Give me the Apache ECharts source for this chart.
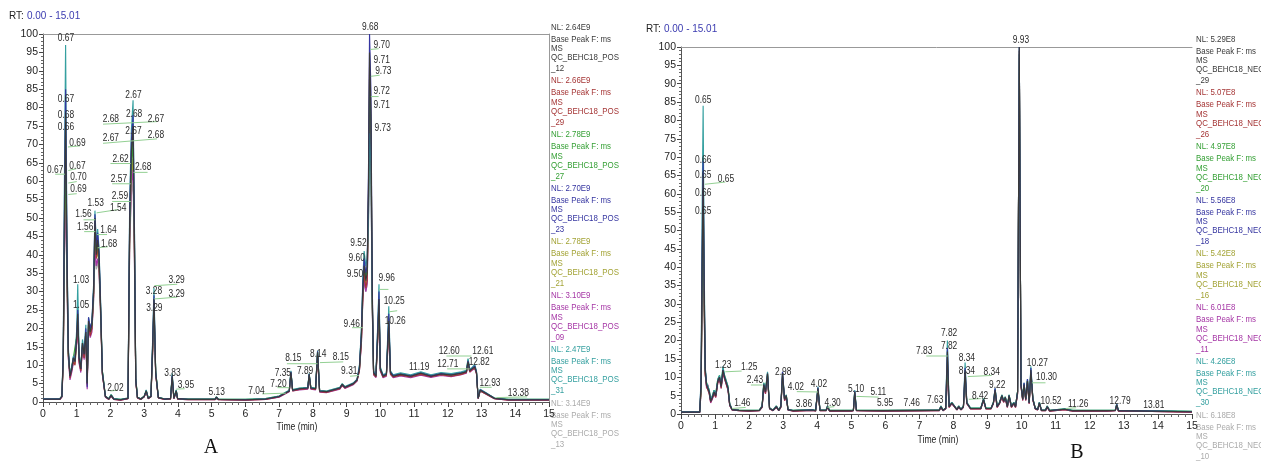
<!DOCTYPE html>
<html><head><meta charset="utf-8">
<script src="https://cdn.jsdelivr.net/npm/echarts@6/dist/echarts.min.js"></script>
<style>html,body{margin:0;padding:0;background:#fff}#c{width:1261px;height:461px}</style>
</head><body><div id="c"></div>
<script>
// ---------- Panel A (positive mode) ----------
const tA = [0,0.5,0.56,0.6,0.63,0.67,0.71,0.75,0.8,0.85,
 0.9,0.95,1.0,1.03,1.07,1.12,1.17,1.22,1.27,1.31,
 1.35,1.4,1.45,1.5,1.54,1.58,1.62,1.66,1.7,1.76,
 1.85,1.95,2.02,2.1,2.3,2.52,2.57,2.62,2.67,2.71,
 2.75,2.8,2.9,3.0,3.06,3.12,3.2,3.25,3.29,3.34,
 3.42,3.6,3.78,3.83,3.88,3.92,3.95,3.99,4.3,4.8,
 4.85,4.9,5.1,5.14,5.2,6.0,6.6,7.0,7.2,7.3,
 7.35,7.4,7.6,7.85,7.89,7.94,8.08,8.14,8.2,8.4,
 8.8,8.87,8.95,9.2,9.31,9.38,9.44,9.48,9.52,9.57,
 9.61,9.65,9.68,9.72,9.76,9.8,9.87,9.93,9.96,10.0,
 10.08,10.18,10.25,10.3,10.38,10.6,10.9,11.2,11.5,11.8,
 12.1,12.4,12.55,12.6,12.65,12.72,12.8,12.85,12.9,12.96,
 13.1,13.38,13.8,14.4,15.0];
const pos12 = [0.8,0.8,1.5,12,45,78,40,14,7,9,
 12,11,18,24,12,9,16,13,19,5,
 22,19,21,30,50,40,44,40,28,8,
 1.5,0.8,1.8,0.8,0.6,1.0,50,68,75,45,
 6,1.2,0.8,1.5,3.0,1.0,1.5,15,28,8,
 1.2,0.8,0.9,7,1.0,0.9,3,0.9,0.7,0.7,
 1.2,0.7,0.7,1.3,0.7,0.6,0.8,1.5,2.5,3.0,
 8,3.2,3.6,3.8,7.5,3.8,3.6,13.5,3.0,2.8,
 3.8,4.8,4.0,5.0,6.0,9,18,30,37,33,
 35,60,95,80,30,8,7,20,28,9,
 7,7.5,22,8,7,7.5,7,7.8,7,7.6,
 7.3,7.8,8.2,11,8.5,9.0,9.5,8,1.0,3.2,
 2.5,1.0,0.6,0.6,0.6];
const pos29 = [0.7,0.7,1.4,11,42,74,38,13,6.5,8.5,
 11,10,17,22,11,8.5,15,12,18,4.5,
 21,18,20,29,48,39,42,38,27,7.5,
 1.4,0.7,1.6,0.7,0.5,0.9,48,66,73,43,
 5.5,1.1,0.7,1.4,2.8,0.9,1.4,14,27,7.5,
 1.1,0.7,0.8,6.5,0.9,0.8,2.8,0.8,0.6,0.6,
 1.1,0.6,0.6,1.2,0.6,0.5,0.7,1.4,2.4,2.9,
 7.5,3.0,3.4,3.6,7.0,3.6,3.4,12.5,2.8,2.6,
 3.6,4.5,3.8,4.8,5.8,8.5,17,28,35,31,
 33,57,91,77,28,7.5,6.8,19,27,8.5,
 6.8,7.2,21,7.6,6.8,7.3,6.8,7.5,6.9,7.4,
 7.0,7.5,8.0,10.5,8.2,8.8,9.2,7.8,0.9,3.0,
 2.3,0.9,0.5,0.5,0.5];
const pos27 = [0.9,0.9,1.6,12,40,69,37,13,7.5,9.5,
 12,11.5,18,23,12.5,9.5,16,13.5,19,5.5,
 22,19.5,21,30,46,41,43,39,28,8.5,
 1.6,0.9,2.0,0.9,0.7,1.1,47,64,71,44,
 6.5,1.3,0.9,1.6,3.2,1.1,1.6,15,26,8.5,
 1.3,0.9,1.0,7.2,1.1,1.0,3.2,1.0,0.8,0.8,
 1.3,0.8,0.8,1.4,0.8,0.7,0.9,1.6,2.6,3.1,
 8.2,3.3,3.7,3.9,7.6,3.9,3.7,13.8,3.1,2.9,
 3.9,4.9,4.1,5.1,6.1,9.2,19,31,38,34,
 36,56,88,76,29,8.2,7.2,20,27,9.2,
 7.2,7.7,22,8.2,7.2,7.7,7.2,8.0,7.2,7.8,
 7.5,8.0,8.4,11.5,8.7,9.2,9.7,8.2,1.1,3.3,
 2.6,1.1,0.7,0.7,0.7];
const pos23 = [0.8,0.8,1.5,13,48,85,42,14,7,9,
 12,11,18,25,12,9,16,13,20,4,
 23,20,22,31,51,42,46,41,29,8,
 1.5,0.8,1.8,0.8,0.6,1.0,52,71,78,47,
 6,1.2,0.8,1.5,3.0,1.0,1.5,16,29,8,
 1.2,0.8,0.9,7.2,1.0,0.9,3,0.9,0.7,0.7,
 1.2,0.7,0.7,1.3,0.7,0.6,0.8,1.5,2.5,3.0,
 8.2,3.2,3.6,3.8,7.6,3.8,3.6,13.8,3.0,2.8,
 3.8,4.8,4.0,5.0,6.0,9.5,19,32,39,35,
 37,64,100,85,32,8,7.2,22,30,9,
 7.2,7.5,24,8.2,7.2,7.6,7.1,7.9,7.1,7.7,
 7.4,7.9,8.3,11.2,8.6,9.1,9.8,8.2,1.0,3.3,
 2.6,1.0,0.6,0.6,0.6];
const pos21 = [0.8,0.8,1.5,11,38,63,35,13,7.5,9,
 11.5,10.5,17,21,11.5,8.5,15,12.5,18,5,
 21,18.5,20,29,45,39,41,37,27,8,
 1.5,0.8,1.7,0.8,0.6,1.0,45,61,66,41,
 6,1.2,0.8,1.5,2.9,1.0,1.5,14,26,8,
 1.2,0.8,0.9,6.8,1.0,0.9,2.9,0.9,0.7,0.7,
 1.2,0.7,0.7,1.3,0.7,0.6,0.8,1.5,2.5,3.0,
 7.8,3.2,3.6,3.8,7.3,3.8,3.6,13,3.0,2.8,
 3.8,4.8,4.0,5.0,6.0,8.8,17,29,35,32,
 34,54,83,72,27,8,7,19,26,8.8,
 7,7.4,20,7.9,7,7.5,7,7.7,7,7.5,
 7.2,7.7,8.1,10.8,8.4,8.9,9.4,7.9,1.0,3.1,
 2.5,1.0,0.6,0.6,0.6];
const pos09 = [0.7,0.7,1.3,10,36,60,33,12,6,8,
 10.5,10,16,20,10.5,8,14,11.5,17,3.5,
 20,17.5,19,28,42,37,39,36,26,7.5,
 1.3,0.7,1.6,0.7,0.5,0.9,43,59,63,39,
 5.5,1.1,0.7,1.4,2.7,0.9,1.4,13,25,7.5,
 1.1,0.7,0.8,6.5,0.9,0.8,2.7,0.8,0.6,0.6,
 1.1,0.6,0.6,1.2,0.6,0.5,0.7,1.3,2.3,2.8,
 7.4,3.0,3.3,3.5,7.0,3.5,3.3,12.5,2.7,2.5,
 3.5,4.5,3.7,4.7,5.7,8.5,16,28,33,30,
 32,52,79,68,26,7.4,6.6,18,25,8.4,
 6.6,7.0,19,7.5,6.6,7.1,6.6,7.3,6.7,7.2,
 6.9,7.4,7.8,10.4,8.1,8.6,9.1,7.6,0.9,3.0,
 2.3,0.9,0.5,0.5,0.5];
const pos31 = [0.9,0.9,1.6,14,55,97,45,15,7.5,9.5,
 12.5,11.5,20,32,13,9.5,17,14,21,5.5,
 23,20,22,32,52,43,47,42,30,8.5,
 1.6,0.9,2.0,0.9,0.7,1.1,55,74,82,49,
 6.5,1.3,0.9,1.6,3.3,1.1,1.6,17,31,8.5,
 1.3,0.9,1.0,7.8,1.1,1.0,3.3,1.0,0.8,0.8,
 1.3,0.8,0.8,1.4,0.8,0.7,0.9,1.6,2.7,3.2,
 8.5,3.4,3.8,4.0,7.8,4.0,3.8,14,3.2,3.0,
 4.0,5.0,4.2,5.2,6.2,10,20,33,41,37,
 39,50,73,65,27,8.5,7.4,23,32,9.5,
 7.4,7.9,26,8.5,7.4,7.9,7.4,8.2,7.4,8.0,
 7.7,8.2,8.6,11.8,8.9,9.4,10.2,8.4,1.1,3.5,
 2.7,1.1,0.7,0.7,0.7];
const pos13 = [0.8,0.8,1.4,10,35,57,32,12,7,8.5,
 11,10.5,17,22,11,8.5,15,12,18,5,
 21,18,20,27,40,36,38,35,25,7.5,
 1.4,0.8,1.6,0.8,0.6,1.0,42,56,60,38,
 5.5,1.1,0.8,1.4,2.8,1.0,1.4,13,24,7.5,
 1.1,0.8,0.9,6.3,1.0,0.9,2.8,0.9,0.7,0.7,
 1.1,0.7,0.7,1.2,0.7,0.6,0.8,1.4,2.4,2.9,
 7.2,3.1,3.5,3.7,6.8,3.7,3.5,12,2.9,2.7,
 3.7,4.6,3.9,4.9,5.8,8.5,16,27,33,30,
 32,48,70,62,25,7.8,6.9,18,24,8.5,
 6.9,7.3,19,7.8,6.9,7.4,6.9,7.6,6.9,7.5,
 7.1,7.6,8.0,10.5,8.3,8.8,9.3,7.8,1.0,3.0,
 2.4,1.0,0.6,0.6,0.6];

// ---------- Panel B (negative mode) ----------
const tB = [0,0.55,0.59,0.62,0.65,0.68,0.71,0.75,0.79,0.83,
 0.87,0.92,0.97,1.02,1.08,1.13,1.18,1.23,1.28,1.33,
 1.38,1.43,1.5,1.7,2.0,2.3,2.38,2.43,2.48,2.54,
 2.6,2.7,2.8,2.87,2.93,2.98,3.04,3.09,3.14,3.3,
 3.86,3.95,4.02,4.08,4.26,4.3,4.36,5.0,5.06,5.1,
 5.15,5.95,7.46,7.58,7.63,7.69,7.77,7.82,7.87,7.95,
 8.1,8.15,8.22,8.29,8.34,8.39,8.5,8.8,8.88,8.95,
 9.1,9.17,9.22,9.28,9.35,9.42,9.47,9.52,9.58,9.63,
 9.7,9.77,9.82,9.88,9.93,9.98,10.03,10.07,10.12,10.17,
 10.22,10.27,10.33,10.4,10.47,10.52,10.58,10.7,10.75,10.82,
 11.26,11.5,12.5,12.75,12.79,12.84,13.81,15.0];
const neg29 = [0.5,0.5,8,40,65,35,12,8,8.5,6,
 3.5,4.5,6,5,9,10,7.5,12,10,9.5,
 7,2.5,1.2,1.0,0.9,1.0,2,8,6,11,
 1.5,1.0,2,1.0,2,11,4,5,1.2,0.9,
 1.1,0.9,7,1.0,1.0,2,0.9,0.9,1.0,6,
 1.0,0.9,1.0,1.0,2,1.0,1.5,17,2,3,
 1.2,2,1.2,2,12,3,1.5,1.5,4,1.5,
 1.5,3,6.5,2,3,5,3.5,4.5,2,5,
 2,3,2,6,100,8,4,8,4,9,
 3,12,4,1.5,1.2,3,1.0,1.0,2,0.9,
 1.3,0.9,0.9,1.0,2.5,0.9,0.8,0.6];
const neg26 = [0.5,0.5,7,38,63,33,11,7.5,8,5.5,
 3.2,4.2,5.5,4.6,8.5,9.5,7,11.5,9.5,9,
 6.5,2.3,1.1,0.9,0.8,0.9,1.8,7.5,5.6,10.5,
 1.4,0.9,1.8,0.9,1.8,10.5,3.7,4.6,1.1,0.8,
 1.0,0.8,6.5,0.9,0.9,1.8,0.8,0.8,0.9,5.5,
 0.9,0.8,0.9,0.9,1.8,0.9,1.4,15,1.8,2.8,
 1.1,1.8,1.1,1.8,11,2.8,1.4,1.4,3.7,1.4,
 1.4,2.8,6,1.8,2.8,4.6,3.2,4.2,1.8,4.6,
 1.8,2.8,1.8,5.5,99,7.5,3.7,7.5,3.7,8.5,
 2.8,11,3.7,1.4,1.1,2.8,0.9,0.9,1.8,0.8,
 1.2,0.8,0.8,0.9,2.3,0.8,0.7,0.5];
const neg20 = [0.6,0.6,7,36,60,32,12,8.5,8.5,6.5,
 4,5,6.5,5.5,9.5,10.5,8,12.5,10.5,10,
 7.5,2.8,1.3,1.1,1.0,1.1,2.2,8.5,6.5,11,
 1.6,1.1,2.2,1.1,2.2,10,4.2,5.2,1.3,1.0,
 1.2,1.0,6.8,1.1,1.1,2.2,1.0,1.0,1.1,6.2,
 1.1,1.0,1.1,1.1,2.2,1.1,1.6,14,2.2,3.2,
 1.3,2.2,1.3,2.2,10,3.2,1.6,1.6,4.2,1.6,
 1.6,3.2,6.8,2.2,3.2,5.2,3.7,4.7,2.2,5.2,
 2.2,3.2,2.2,6.2,98,8.2,4.2,8.2,4.2,9.2,
 3.2,11.5,4.2,1.6,1.3,3.2,1.1,1.1,2.2,1.0,
 1.4,1.0,1.0,1.1,2.6,1.0,0.9,0.7];
const neg18 = [0.5,0.5,9,44,69,37,12.5,8,8.5,6,
 3.5,4.5,6,5,9,10,7.5,12,10,9.5,
 7,2.5,1.2,1.0,0.9,1.0,2,8,6,11,
 1.5,1.0,2,1.0,2,11.5,4,5,1.2,0.9,
 1.1,0.9,7.2,1.0,1.0,2,0.9,0.9,1.0,6.2,
 1.0,0.9,1.0,1.0,2,1.0,1.5,18,2,3,
 1.2,2,1.2,2,12.5,3,1.5,1.5,4,1.5,
 1.5,3,7,2,3,5,3.5,4.5,2,5,
 2,3,2,6,100,8,4,8.5,4,9.5,
 3,12.5,4,1.5,1.2,3,1.0,1.0,2,0.9,
 1.3,0.9,0.9,1.0,2.6,0.9,0.8,0.6];
const neg16 = [0.5,0.5,7,33,55,30,11,8,8.5,6,
 3.6,4.6,6,5,9,10,7.5,11.5,10,9.5,
 7,2.5,1.2,1.0,0.9,1.0,2,7.5,6,10.5,
 1.5,1.0,2,1.0,2,10,4,5,1.2,0.9,
 1.1,0.9,6.5,1.0,1.0,2,0.9,0.9,1.0,5.5,
 1.0,0.9,1.0,1.0,2,1.0,1.5,12,2,3,
 1.2,2,1.2,2,10,3,1.5,1.5,3.8,1.5,
 1.5,3,6,2,3,5,3.5,4.5,2,5,
 2,3,2,6,99,8,4,8,4,9,
 3,11,4,1.5,1.2,3,1.0,1.0,2,0.9,
 1.3,0.9,0.9,1.0,2.4,0.9,0.8,0.6];
const neg11 = [0.4,0.4,6,31,52,29,11,7,8,5.5,
 3,4,5.5,4.5,8.5,9.5,7,11,9.5,9,
 6.5,2.3,1.1,0.9,0.8,0.9,1.8,7,5.5,10,
 1.4,0.9,1.8,0.9,1.8,9.5,3.6,4.6,1.1,0.8,
 1.0,0.8,6.2,0.9,0.9,1.8,0.8,0.8,0.9,5.2,
 0.9,0.8,0.9,0.9,1.8,0.9,1.4,11,1.8,2.8,
 1.1,1.8,1.1,1.8,9,2.8,1.4,1.4,3.6,1.4,
 1.4,2.8,5.8,1.8,2.8,4.6,3.2,4.2,1.8,4.6,
 1.8,2.8,1.8,5.5,98,7.5,3.7,7.5,3.7,8.5,
 2.8,10.5,3.7,1.4,1.1,2.8,0.9,0.9,1.8,0.8,
 1.2,0.8,0.8,0.9,2.3,0.8,0.7,0.5];
const neg30 = [0.6,0.6,10,55,84,42,13,8.5,9,6.5,
 4,5,6.5,5.5,9.5,10.5,8,13,10.5,10,
 7.5,2.8,1.3,1.1,1.0,1.1,2.2,8.5,6.5,11.5,
 1.6,1.1,2.2,1.1,2.2,11.5,4.2,5.2,1.3,1.0,
 1.2,1.0,7.5,1.1,1.1,2.2,1.0,1.0,1.1,6.5,
 1.1,1.0,1.1,1.1,2.2,1.1,1.6,20,2.2,3.2,
 1.3,2.2,1.3,2.2,14,3.2,1.6,1.6,4.2,1.6,
 1.6,3.2,7,2.2,3.2,5.2,3.7,4.7,2.2,5.2,
 2.2,3.2,2.2,6.2,100,8.5,4.2,8.5,4.2,9.5,
 3.2,13,4.2,1.6,1.3,3.2,1.1,1.1,2.2,1.0,
 1.4,1.0,1.0,1.1,2.8,1.0,0.9,0.7];
const neg10 = [0.5,0.5,6,30,50,28,10.5,7.5,8,5.5,
 3.3,4.3,5.8,4.8,8.8,9.8,7.3,11,9.8,9.3,
 6.8,2.4,1.1,0.9,0.8,0.9,1.9,7.2,5.8,10,
 1.4,0.9,1.9,0.9,1.9,9.5,3.8,4.8,1.1,0.8,
 1.0,0.8,6,0.9,0.9,1.9,0.8,0.8,0.9,5,
 0.9,0.8,0.9,0.9,1.9,0.9,1.4,9,1.9,2.9,
 1.1,1.9,1.1,1.9,8,2.9,1.4,1.4,3.6,1.4,
 1.4,2.9,5.6,1.9,2.9,4.8,3.3,4.3,1.9,4.8,
 1.9,2.9,1.9,5.6,97,7.8,3.8,7.8,3.8,8.8,
 2.9,10,3.8,1.4,1.1,2.9,0.9,0.9,1.9,0.8,
 1.2,0.8,0.8,0.9,2.3,0.8,0.7,0.5];

// ---------- legends (trace order as listed on the right of each panel) ----------
const traceColors = ['#3a3a3a','#a53535','#35a035','#3535a0','#a3a335','#a535a5','#35a0a0','#ababab'];
const nlA = ['2.64E9','2.66E9','2.78E9','2.70E9','2.78E9','3.10E9','2.47E9','3.14E9'];
const fileA = ['_12','_29','_27','_23','_21','_09','_31','_13'];
const nlB = ['5.29E8','5.07E8','4.97E8','5.56E8','5.42E8','6.01E8','4.26E8','6.18E8'];
const fileB = ['_29','_26','_20','_18','_16','_11','_30','_10'];
const tracesA = [pos12,pos29,pos27,pos23,pos21,pos09,pos31,pos13];
const tracesB = [neg29,neg26,neg20,neg18,neg16,neg11,neg30,neg10];
const drawOrder = [7,4,5,1,2,6,3,0];

// ---------- peak labels [time, height, text] ----------
const labelsA = [
 [0.68,99.0,'0.67'],[0.68,82.3,'0.67'],[0.68,78.0,'0.68'],[0.68,74.7,'0.66'],[1.02,70.4,'0.69'],
 [0.36,62.9,'0.67'],[1.02,64.2,'0.67'],[1.05,61.0,'0.70'],[1.05,57.8,'0.69'],
 [1.56,54.1,'1.53'],[1.20,51.1,'1.56'],[2.23,52.8,'1.54'],[1.25,47.5,'1.56'],[1.94,46.6,'1.64'],[1.96,43.0,'1.68'],
 [1.13,33.2,'1.03'],[1.13,26.2,'1.05'],[2.15,3.9,'2.02'],
 [2.68,83.5,'2.67'],[2.01,77.0,'2.68'],[2.70,78.1,'2.68'],[3.35,76.8,'2.67'],[2.68,73.7,'2.67'],[3.35,72.6,'2.68'],
 [2.01,71.7,'2.67'],[2.30,66.1,'2.62'],[2.97,63.7,'2.68'],[2.25,60.5,'2.57'],[2.28,55.9,'2.59'],
 [3.96,33.0,'3.29'],[3.29,30.0,'3.28'],[3.96,29.2,'3.29'],[3.30,25.5,'3.29'],[3.84,7.8,'3.83'],[4.24,4.5,'3.95'],[5.15,2.8,'5.13'],
 [6.33,3.0,'7.04'],[6.98,4.8,'7.20'],[7.11,7.8,'7.35'],[7.77,8.4,'7.89'],[7.42,11.9,'8.15'],[8.16,13.0,'8.14'],[8.83,12.3,'8.15'],[9.08,8.4,'9.31'],
 [9.15,21.3,'9.46'],[9.25,34.8,'9.50'],[9.30,39.1,'9.60'],[9.35,43.1,'9.52'],[10.19,33.7,'9.96'],[10.41,27.5,'10.25'],[10.44,21.9,'10.26'],[11.15,9.6,'11.19'],
 [12.04,13.9,'12.60'],[12.0,10.3,'12.71'],[13.04,13.9,'12.61'],[12.93,10.9,'12.82'],[13.25,5.1,'12.93'],[14.09,2.4,'13.38'],
 [9.70,101.8,'9.68'],[10.04,97.0,'9.70'],[10.04,92.9,'9.71'],[10.09,89.9,'9.73'],[10.04,84.5,'9.72'],[10.04,80.8,'9.71'],[10.07,74.3,'9.73']
];
const labelsB = [
 [9.98,101.8,'9.93'],
 [0.65,85.6,'0.65'],[0.65,69.1,'0.66'],[0.65,65.1,'0.65'],[1.32,64.0,'0.65'],[0.65,60.1,'0.66'],[0.65,55.3,'0.65'],
 [1.24,13.2,'1.23'],[2.0,12.9,'1.25'],[2.17,9.1,'2.43'],[3.0,11.4,'2.98'],[3.37,7.4,'4.02'],[4.05,8.2,'4.02'],
 [1.80,2.9,'1.46'],[3.61,2.7,'3.86'],[4.45,2.9,'4.30'],[5.14,6.7,'5.10'],[5.79,5.9,'5.11'],[5.99,2.9,'5.95'],[6.77,2.9,'7.46'],[7.46,3.8,'7.63'],
 [7.14,17.2,'7.83'],[7.87,22.0,'7.82'],[7.87,18.6,'7.82'],
 [8.39,15.2,'8.34'],[8.39,11.8,'8.34'],[9.12,11.4,'8.34'],[9.28,7.9,'9.22'],[8.78,4.9,'8.42'],
 [10.46,14.0,'10.27'],[10.73,10.0,'10.30'],[10.86,3.6,'10.52'],[11.66,2.7,'11.26'],[12.89,3.4,'12.79'],[13.88,2.3,'13.81']
];
// leader lines from labels to peaks [t1, v1, t2, v2]
const leadersA = [
 [0.74,69.3,1.1,69.6],[0.36,61.9,0.65,61.9],[0.75,62.9,0.99,63.4],[0.75,59.5,1.0,59.9],[0.75,56.4,1.0,56.6],
 [1.59,51.4,2.23,52.3],[1.2,49.5,1.55,49.5],[1.22,46.3,1.55,46.3],[1.6,45.5,1.9,45.5],[1.62,41.9,1.93,42.2],
 [1.78,75.5,3.38,76.2],[1.78,70.3,3.38,71.5],[2.0,64.8,2.6,64.8],[2.68,62.4,3.1,62.4],[2.05,59.3,2.6,59.3],[2.05,54.5,2.6,54.5],
 [3.3,31.6,3.98,32],[3.3,28,3.98,28.5],[3.95,3.5,4.2,3.6],[2.0,3.0,2.2,3.2],[6.5,2.2,7.2,2.4],[6.95,3.9,7.3,3.9],
 [7.23,10.4,8.14,10.4],[8.21,10.7,8.9,10.9],[9.1,7.0,9.36,7.2],[9.16,20.2,9.48,20.2],[9.96,30.6,10.24,30.6],[10.25,24.5,10.5,24.8],
 [11.96,12.5,12.7,12.5],[11.98,9.0,12.65,9.0],[12.95,4.0,13.3,4.0],[13.46,1.2,14.35,1.4],
 [9.7,95.8,9.95,96],[9.72,88.5,9.98,88.8],[9.72,83,9.95,83]
];
const leadersB = [
 [0.7,62.6,1.3,63.2],[1.3,11.5,1.78,11.7],[2.05,7.9,2.4,7.9],[3.4,6.1,4.02,6.0],[4.3,1.8,4.5,2.0],[5.15,4.8,5.8,4.6],
 [1.5,1.5,1.9,1.8],[7.2,15.8,7.83,15.8],[8.42,10.2,9.12,10.5],[8.45,4.0,8.8,4.2],[10.3,8.5,10.7,8.5],[11.3,1.5,11.6,1.7]
];

// sanity check on data lengths
tracesA.forEach((a,i)=>{ if(a.length!==tA.length) throw new Error('A trace '+i+' len '+a.length+' vs '+tA.length); });
tracesB.forEach((a,i)=>{ if(a.length!==tB.length) throw new Error('B trace '+i+' len '+a.length+' vs '+tB.length); });

const FONT = '"Liberation Sans", Arial, sans-serif';
const chart = echarts.init(document.getElementById('c'));

function mainX(gi){ return {gridIndex:gi,type:'value',min:0,max:15,interval:1,
  axisLine:{show:true,onZero:false,lineStyle:{color:'#555',width:1}},
  axisTick:{show:true,length:5,lineStyle:{color:'#444'}},
  minorTick:{show:true,splitNumber:5,length:3,lineStyle:{color:'#666'}},
  axisLabel:{fontSize:10.5,color:'#1e1e1e',fontFamily:FONT,margin:7},
  splitLine:{show:false},minorSplitLine:{show:false}}; }
function topX(gi){ return {gridIndex:gi,type:'value',position:'top',min:0,max:15,
  axisLine:{show:true,onZero:false,lineStyle:{color:'#999',width:1}},
  axisTick:{show:false},axisLabel:{show:false},splitLine:{show:false}}; }
function mainY(gi){ return {gridIndex:gi,type:'value',min:0,max:100,interval:5,
  axisLine:{show:true,onZero:false,lineStyle:{color:'#555',width:1}},
  axisTick:{show:true,length:4,lineStyle:{color:'#444'}},
  minorTick:{show:true,splitNumber:5,length:2,lineStyle:{color:'#666'}},
  axisLabel:{fontSize:10.5,color:'#1e1e1e',fontFamily:FONT,margin:5},
  splitLine:{show:false},minorSplitLine:{show:false}}; }

function traceSeries(t, arrs, xi, yi){
  return drawOrder.map(k=>({type:'line',xAxisIndex:xi,yAxisIndex:yi,silent:true,
    showSymbol:false,symbol:'none',animation:false,
    lineStyle:{color:traceColors[k],width:1.15},
    data:t.map((x,i)=>[x,arrs[k][i]])}));
}
function labelSeries(labels, xi, yi){
  return {type:'custom',xAxisIndex:xi,yAxisIndex:yi,silent:true,z:6,animation:false,
    data:labels.map(l=>[l[0],l[1]]),encode:{x:0,y:1},
    renderItem:(params,api)=>{
      const p=api.coord([api.value(0),api.value(1)]);
      return {type:'text',x:p[0],y:p[1],scaleX:0.8,
        style:{text:labels[params.dataIndex][2],x:0,y:0,fill:'#2a2a2a',fontSize:10.5,fontFamily:FONT,
          align:'center',verticalAlign:'middle',textAlign:'center',textVerticalAlign:'middle'}};
    }};
}
function leaderSeries(leaders, xi, yi){
  return {type:'custom',xAxisIndex:xi,yAxisIndex:yi,silent:true,z:5,animation:false,
    data:leaders,encode:{x:[0,2],y:[1,3]},
    renderItem:(params,api)=>{
      const p1=api.coord([api.value(0),api.value(1)]);
      const p2=api.coord([api.value(2),api.value(3)]);
      return {type:'line',shape:{x1:p1[0],y1:p1[1],x2:p2[0],y2:p2[1]},
        style:{stroke:'#93d093',lineWidth:1}};
    }};
}

// text graphics (titles, axis names, legends)
const graphics = [];
function txt(x,y,text,opt){
  graphics.push(Object.assign({type:'text',x:x,y:y,silent:true,
    style:Object.assign({text:text,x:0,y:0,fontFamily:FONT,fontSize:10,fill:'#222',
      align:'left',verticalAlign:'middle'},opt.style||{})},opt.el||{}));
}
function title(x,y){
  graphics.push({type:'text',x:x,y:y,silent:true,scaleX:0.95,
    style:{text:'{a|RT:} {b|0.00 - 15.01}',x:0,y:0,verticalAlign:'middle',align:'left',
      rich:{a:{fontSize:10.5,fontFamily:FONT,fill:'#222',color:'#222'},
            b:{fontSize:10.5,fontFamily:FONT,fill:'#3b3bb0',color:'#3b3bb0'}}}});
}
title(9,16); title(646,29);
txt(297,427,'Time (min)',{style:{align:'center',fontSize:10.5},el:{scaleX:0.82}});
txt(938,440,'Time (min)',{style:{align:'center',fontSize:10.5},el:{scaleX:0.82}});
txt(211,448,'A',{style:{align:'center',fontFamily:'"Liberation Serif", "Times New Roman", serif',fontSize:20,fill:'#111'}});
txt(1077,453,'B',{style:{align:'center',fontFamily:'"Liberation Serif", "Times New Roman", serif',fontSize:20,fill:'#111'}});
const lineOff = [0,12,21.5,30.5,41.5];
function legend(x,y0,nl,files,suffix){
  nl.forEach((v,i)=>{
    const lines=['NL: '+v,'Base Peak F: ms','MS','QC_BEHC18_'+suffix,files[i]];
    lines.forEach((s,j)=>txt(x,y0+i*53.7+lineOff[j],s,{style:{fontSize:9.5,fill:traceColors[i]},el:{scaleX:0.83}}));
  });
}
legend(551,27,nlA,fileA,'POS');
legend(1196,39,nlB,fileB,'NEG');

const option = {
  animation:false,
  backgroundColor:'#fff',
  grid:[{left:43,top:34,width:506,height:368},{left:681,top:47,width:511,height:367}],
  xAxis:[mainX(0),topX(0),mainX(1),topX(1)],
  yAxis:[mainY(0),
    {gridIndex:0,type:'value',position:'right',min:0,max:100,
      axisLine:{show:true,onZero:false,lineStyle:{color:'#999',width:1}},
      axisTick:{show:false},axisLabel:{show:false},splitLine:{show:false}},
    mainY(1)],
  series:[
    ...traceSeries(tA,tracesA,0,0),
    leaderSeries(leadersA,0,0),
    labelSeries(labelsA,0,0),
    ...traceSeries(tB,tracesB,2,2),
    leaderSeries(leadersB,2,2),
    labelSeries(labelsB,2,2)
  ],
  graphic:graphics
};
chart.setOption(option);
</script></body></html>
